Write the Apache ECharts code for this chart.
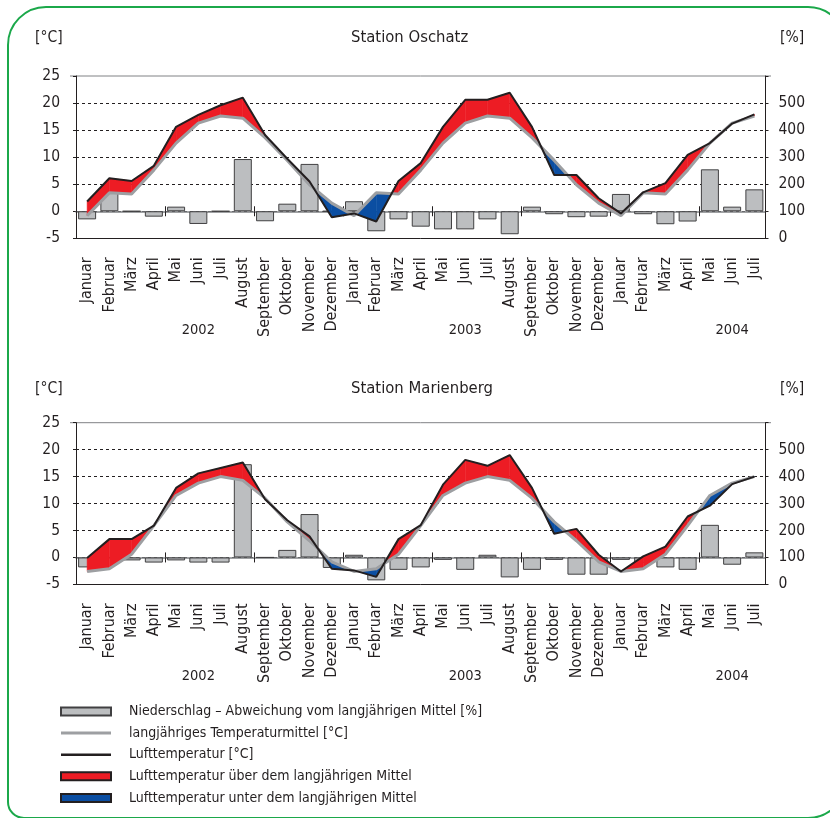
<!DOCTYPE html>
<html>
<head>
<meta charset="utf-8">
<script src="https://cdn.jsdelivr.net/npm/echarts@6/dist/echarts.min.js"></script>
<style>
html, body { margin: 0; padding: 0; background: #fff; }
#chart { width: 830px; height: 818px; }
</style>
</head>
<body>
<div id="chart"></div>
<script>
// Kategorien (Jan 2002 - Jul 2004)
const months = [
  'Januar', 'Februar', 'März', 'April', 'Mai', 'Juni', 'Juli', 'August', 'September', 'Oktober', 'November', 'Dezember',
  'Januar', 'Februar', 'März', 'April', 'Mai', 'Juni', 'Juli', 'August', 'September', 'Oktober', 'November', 'Dezember',
  'Januar', 'Februar', 'März', 'April', 'Mai', 'Juni', 'Juli'
]
const years = [
  '', '', '', '', '', '2002', '', '', '', '', '', '',
  '', '', '', '', '', '2003', '', '', '', '', '', '',
  '', '', '', '', '', '2004', ''
]

// Station Oschatz
const tempOschatz = [1.8, 6.1, 5.6, 8.4, 15.6, 17.8, 19.6, 21.0, 14.1, 9.7, 5.5, -1.1, -0.4, -1.9, 5.6, 8.9, 15.6, 20.6, 20.6, 21.9, 15.6, 6.7, 6.7, 2.4, -0.4, 3.5, 5.2, 10.4, 12.6, 16.2, 17.9]
const meanOschatz = [-0.8, 3.4, 3.2, 7.6, 12.6, 16.3, 17.6, 17.2, 13.6, 9.4, 4.9, 1.5, -0.8, 3.4, 3.2, 7.6, 12.6, 16.3, 17.6, 17.2, 13.6, 9.4, 4.9, 1.5, -0.8, 3.4, 3.2, 7.6, 12.6, 16.3, 17.6]
const precipOschatz = [70, 172, 100, 80, 117, 53, 100, 293, 63, 128, 275, 100, 137, 26, 70, 43, 33, 33, 70, 15, 117, 89, 78, 80, 164, 89, 52, 62, 255, 117, 181]

// Station Marienberg
const tempMarienberg = [-0.1, 3.4, 3.4, 5.9, 12.9, 15.6, 16.6, 17.6, 10.8, 6.9, 3.9, -2.1, -2.4, -3.6, 3.4, 6.0, 13.5, 18.1, 17.0, 19.0, 12.9, 4.4, 5.3, 0.5, -2.6, 0.2, 2.0, 7.6, 9.6, 13.6, 15.0]
const meanMarienberg = [-2.6, -2.1, 0.6, 5.9, 11.5, 13.8, 15.0, 14.3, 11.0, 6.6, 3.1, -0.8, -2.6, -2.1, 0.6, 5.9, 11.5, 13.8, 15.0, 14.3, 11.0, 6.6, 3.1, -0.8, -2.6, -2.1, 0.6, 5.9, 11.5, 13.8, 15.0]
const precipMarienberg = [63, 100, 89, 81, 89, 81, 81, 446, 100, 128, 261, 61, 110, 15, 54, 63, 91, 54, 110, 26, 54, 91, 36, 36, 91, 80, 63, 54, 221, 73, 119]

const FONT = "'DejaVu Sans Condensed', 'Liberation Sans Narrow', sans-serif"
const TEXT = '#231f20'
const RED = '#ed1c24'
const BLUE = '#0b4ea2'

const NAME_PRECIP = 'Niederschlag – Abweichung vom langjährigen Mittel [%]'
const NAME_MEAN = 'langjähriges Temperaturmittel [°C]'
const NAME_TEMP = 'Lufttemperatur [°C]'
const NAME_ABOVE = 'Lufttemperatur über dem langjährigen Mittel'
const NAME_BELOW = 'Lufttemperatur unter dem langjährigen Mittel'

const panels = [
  { title: 'Station Oschatz', top: 76, height: 162.3, temp: tempOschatz, mean: meanOschatz, precip: precipOschatz, labelY: 37.5 },
  { title: 'Station Marienberg', top: 422.7, height: 161.7, temp: tempMarienberg, mean: meanMarienberg, precip: precipMarienberg, labelY: 388.5 }
]

// Flaeche zwischen Lufttemperatur und Mittel, pro Monatsabschnitt, mit Schnittpunkt
function fillSeries(name, color, sign, temp, mean, xi, yi) {
  const segs = []
  for (let i = 0; i < temp.length - 1; i++) {
    segs.push([i, temp[i], mean[i], temp[i + 1], mean[i + 1]])
  }
  return {
    name: name,
    type: 'custom',
    xAxisIndex: xi,
    yAxisIndex: yi,
    z: 3,
    silent: true,
    itemStyle: { color: color, borderColor: TEXT, borderWidth: 1 },
    encode: { x: 0, y: [1, 2, 3, 4] },
    data: segs,
    renderItem: function (params, api) {
      const i = api.value(0)
      const a0 = api.coord([i, api.value(1)])
      const m0 = api.coord([i, api.value(2)])
      const a1 = api.coord([i + 1, api.value(3)])
      const m1 = api.coord([i + 1, api.value(4)])
      const d0 = api.value(1) - api.value(2)
      const d1 = api.value(3) - api.value(4)
      const parts = []
      if (d0 * d1 < 0) {
        const t = d0 / (d0 - d1)
        const c = [a0[0] + t * (a1[0] - a0[0]), a0[1] + t * (a1[1] - a0[1])]
        parts.push([d0, [a0, c, m0]])
        parts.push([d1, [c, a1, m1]])
      } else {
        parts.push([d0 + d1, [a0, a1, m1, m0]])
      }
      return {
        type: 'group',
        children: parts.filter(p => p[0] * sign > 0).map(p => ({
          type: 'polygon',
          shape: { points: p[1] },
          style: { fill: color, stroke: color, lineWidth: 0.5 }
        }))
      }
    }
  }
}

const grid = []
const xAxis = []
const yAxis = []
const series = []
const graphic = []

panels.forEach((p, k) => {
  const xi = k * 4
  const yi = k * 3

  grid.push({ left: 76, right: 64.5, top: p.top, height: p.height, outerBoundsMode: 'none', containLabel: false })

  // Monate unten
  xAxis.push({
    gridIndex: k, type: 'category', position: 'bottom', data: months,
    axisLine: { onZero: false, lineStyle: { color: TEXT, width: 1 } },
    axisTick: { show: false },
    splitLine: { show: false },
    axisLabel: { interval: 0, rotate: 90, margin: 19, fontSize: 16, color: TEXT, fontFamily: FONT }
  })
  // Jahre
  xAxis.push({
    gridIndex: k, type: 'category', position: 'bottom', data: years,
    axisLine: { show: false, onZero: false },
    axisTick: { show: false },
    splitLine: { show: false },
    axisLabel: { interval: 0, margin: 84, fontSize: 14.5, color: TEXT, fontFamily: FONT }
  })
  // Nulllinie mit Strichen nach unten
  xAxis.push({
    gridIndex: k, type: 'category', position: 'bottom', data: months, z: 1,
    axisLine: { onZero: true, onZeroAxisIndex: yi, lineStyle: { color: '#808285', width: 1.5 } },
    axisTick: { show: true, length: 5, inside: false, lineStyle: { color: TEXT, width: 1 } },
    axisLabel: { show: false },
    splitLine: { show: false }
  })
  // ... und nach oben
  xAxis.push({
    gridIndex: k, type: 'category', position: 'bottom', data: months, z: 1,
    axisLine: { onZero: true, onZeroAxisIndex: yi, lineStyle: { opacity: 0 } },
    axisTick: { show: true, length: 5, inside: true, lineStyle: { color: TEXT, width: 1 } },
    axisLabel: { show: false },
    splitLine: { show: false }
  })

  yAxis.push({
    gridIndex: k, type: 'value', position: 'left', min: -5, max: 25, interval: 5,
    axisLine: { show: true, lineStyle: { color: TEXT, width: 1 } },
    axisTick: { show: true, length: 6, lineStyle: { color: TEXT, type: [3, 3] } },
    axisLabel: { margin: 16, fontSize: 15.5, color: TEXT, fontFamily: FONT },
    splitLine: { show: true, showMinLine: false, showMaxLine: false, lineStyle: { color: TEXT, width: 1, type: [3, 3] } }
  })
  yAxis.push({
    gridIndex: k, type: 'value', position: 'right', min: 0, max: 600, interval: 100,
    axisLine: { show: true, lineStyle: { color: TEXT, width: 1 } },
    axisTick: { show: true, length: 6, lineStyle: { color: TEXT, type: [3, 3] } },
    axisLabel: { margin: 13, fontSize: 15.5, color: TEXT, fontFamily: FONT, formatter: v => (v === 600 ? '' : v) },
    splitLine: { show: false }
  })
  // Abweichung vom Mittel (100 % liegt auf 0 °C)
  yAxis.push({ gridIndex: k, type: 'value', min: -100, max: 500, show: false })

  series.push({
    name: NAME_PRECIP, type: 'bar', xAxisIndex: xi, yAxisIndex: yi + 2, z: 2,
    barWidth: 18,
    itemStyle: { color: '#bcbec0', borderColor: '#414042', borderWidth: 1 },
    data: p.precip.map(v => v - 100)
  })
  series.push(fillSeries(NAME_ABOVE, RED, 1, p.temp, p.mean, xi, yi))
  series.push(fillSeries(NAME_BELOW, BLUE, -1, p.temp, p.mean, xi, yi))
  series.push({
    name: NAME_MEAN, type: 'line', xAxisIndex: xi, yAxisIndex: yi, z: 4,
    symbol: 'none', color: '#9d9fa2',
    lineStyle: { color: '#9d9fa2', width: 3 },
    data: p.mean
  })
  series.push({
    name: NAME_TEMP, type: 'line', xAxisIndex: xi, yAxisIndex: yi, z: 5,
    symbol: 'none', color: TEXT,
    lineStyle: { color: TEXT, width: 2 },
    data: p.temp
  })

  graphic.push(
    { type: 'text', x: 351, y: p.labelY, style: { text: p.title, fontSize: 16.5, fontFamily: FONT, fill: TEXT, verticalAlign: 'middle' } },
    { type: 'text', x: 35, y: p.labelY, style: { text: '[°C]', fontSize: 15.5, fontFamily: FONT, fill: TEXT, verticalAlign: 'middle' } },
    { type: 'text', x: 780, y: p.labelY, style: { text: '[%]', fontSize: 15.5, fontFamily: FONT, fill: TEXT, verticalAlign: 'middle' } }
  )
  // Rahmen oben
  graphic.push({
    type: 'line', silent: true,
    shape: { x1: 70, y1: p.top, x2: 771, y2: p.top },
    style: { stroke: '#808285', lineWidth: 1 }
  })
})

// gruener Rahmen
graphic.push({
  type: 'rect', silent: true, z: -1,
  shape: { x: 8, y: 7, width: 838, height: 811, r: [38, 38, 38, 16] },
  style: { fill: 'none', stroke: '#1ba84a', lineWidth: 2 }
})

const lineIcon = w => 'path://M0,0h0.01v0.01h-0.01z M0,7.99h0.01v0.01h-0.01z M0,' + (4 - w / 2) + 'h50v' + w + 'h-50z'

const option = {
  animation: false,
  backgroundColor: '#fff',
  textStyle: { fontFamily: FONT },
  grid: grid,
  xAxis: xAxis,
  yAxis: yAxis,
  series: series,
  graphic: graphic,
  legend: {
    orient: 'vertical',
    left: 60,
    top: 704.5,
    padding: 0,
    itemWidth: 50,
    itemHeight: 8,
    itemGap: 7.6,
    selectedMode: false,
    textStyle: { fontSize: 14, color: TEXT, fontFamily: FONT, padding: [0, 0, 0, 13] },
    data: [
      { name: NAME_PRECIP, icon: 'rect' },
      { name: NAME_MEAN, icon: lineIcon(3), itemStyle: { borderWidth: 0 } },
      { name: NAME_TEMP, icon: lineIcon(2.5), itemStyle: { borderWidth: 0 } },
      { name: NAME_ABOVE, icon: 'rect' },
      { name: NAME_BELOW, icon: 'rect' }
    ]
  }
}

const chart = echarts.init(document.getElementById('chart'))
chart.setOption(option)
</script>
</body>
</html>
